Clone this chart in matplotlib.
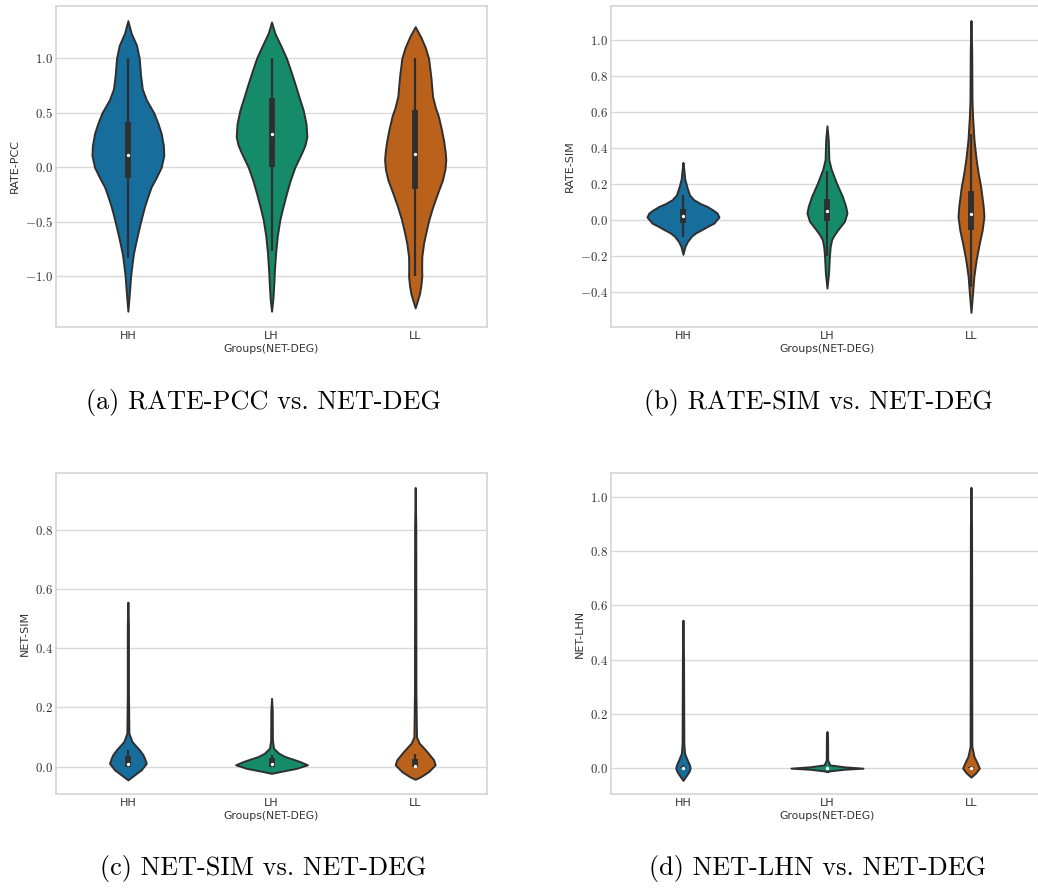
import colorsys

import matplotlib
matplotlib.use('Agg')
from matplotlib import pyplot as plt
from matplotlib.ticker import FuncFormatter

plt.rcParams['mathtext.fontset'] = 'cm'

groups = ['HH', 'LH', 'LL']
base_colors = ['#0173b2', '#029e73', '#d55e00']

# violin outlines: y positions and half widths (in category units) per group
pcc_y = [
    [1.345, 1.23, 1.12, 1.0, 0.85, 0.72, 0.62, 0.5, 0.4, 0.31, 0.2, 0.11, 0.0, -0.1, -0.18, -0.27,
     -0.36, -0.45, -0.54, -0.66, -0.79, -0.9, -1.0, -1.16, -1.32],
    [1.333, 1.23, 1.1, 1.0, 0.88, 0.77, 0.65, 0.526, 0.4, 0.28, 0.2, 0.13, 0.0, -0.12, -0.24, -0.36,
     -0.48, -0.63, -0.79, -0.95, -1.06, -1.2, -1.32],
    [1.29, 1.2, 1.1, 1.0, 0.83, 0.65, 0.55, 0.465, 0.35, 0.25, 0.15, 0.07, -0.02, -0.116, -0.24, -0.36,
     -0.48, -0.6, -0.7, -0.82, -0.92, -1.0, -1.08, -1.16, -1.29],
]
pcc_w = [
    [0.0, 0.023, 0.06, 0.079, 0.088, 0.1, 0.128, 0.18, 0.21, 0.232, 0.247, 0.25, 0.232, 0.195, 0.162,
     0.138, 0.116, 0.098, 0.081, 0.06, 0.039, 0.028, 0.019, 0.01, 0.0],
    [0.0, 0.023, 0.07, 0.104, 0.135, 0.162, 0.19, 0.22, 0.24, 0.246, 0.232, 0.209, 0.162, 0.13, 0.104,
     0.08, 0.058, 0.04, 0.028, 0.02, 0.016, 0.01, 0.0],
    [0.0, 0.037, 0.07, 0.093, 0.109, 0.121, 0.14, 0.162, 0.182, 0.197, 0.208, 0.213, 0.207, 0.19, 0.155,
     0.123, 0.095, 0.074, 0.058, 0.046, 0.045, 0.046, 0.04, 0.03, 0.0],
]
# (whisker low, q1, median, q3, whisker high)
pcc_box = [(-0.835, -0.10, 0.113, 0.42, 1.0),
           (-0.765, 0.0, 0.306, 0.64, 1.0),
           (-1.0, -0.2, 0.125, 0.526, 1.0)]

sim_y = [
    [0.32, 0.28, 0.23, 0.187, 0.14, 0.113, 0.09, 0.076, 0.055, 0.039, 0.017, -0.017, -0.035, -0.054,
     -0.07, -0.09, -0.12, -0.146, -0.19],
    [0.523, 0.445, 0.335, 0.28, 0.205, 0.131, 0.076, 0.039, -0.007, -0.054, -0.085, -0.109, -0.15,
     -0.2, -0.294, -0.377],
    [1.107, 0.945, 0.667, 0.575, 0.445, 0.335, 0.26, 0.187, 0.076, 0.02, -0.054, -0.128, -0.22,
     -0.312, -0.405, -0.512],
]
sim_w = [
    [0.0, 0.006, 0.012, 0.026, 0.045, 0.075, 0.125, 0.167, 0.21, 0.237, 0.25, 0.214, 0.17, 0.128,
     0.09, 0.058, 0.03, 0.014, 0.0],
    [0.0, 0.009, 0.013, 0.03, 0.066, 0.107, 0.13, 0.139, 0.121, 0.075, 0.048, 0.032, 0.022, 0.017,
     0.011, 0.0],
    [0.0, 0.005, 0.007, 0.011, 0.021, 0.036, 0.05, 0.067, 0.085, 0.09, 0.078, 0.058, 0.036, 0.02,
     0.011, 0.0],
]
sim_box = [(-0.094, -0.017, 0.02, 0.061, 0.14),
           (-0.2, -0.007, 0.05, 0.118, 0.27),
           (-0.37, -0.054, 0.033, 0.159, 0.48)]

nsim_y = [
    [0.555, 0.474, 0.248, 0.113, 0.085, 0.07, 0.056, 0.04, 0.028, 0.011, -0.011, -0.028, -0.045],
    [0.23, 0.19, 0.09, 0.062, 0.045, 0.034, 0.017, 0.006, -0.006, -0.017, -0.023],
    [0.942, 0.81, 0.25, 0.1, 0.079, 0.065, 0.051, 0.023, 0.006, -0.017, -0.034, -0.043],
]
nsim_w = [
    [0.0, 0.004, 0.004, 0.007, 0.028, 0.055, 0.081, 0.105, 0.116, 0.128, 0.093, 0.046, 0.0],
    [0.0, 0.005, 0.006, 0.014, 0.05, 0.093, 0.197, 0.25, 0.174, 0.058, 0.0],
    [0.0, 0.004, 0.005, 0.009, 0.028, 0.055, 0.081, 0.128, 0.139, 0.093, 0.039, 0.0],
]
nsim_box = [(0.0, 0.0, 0.009, 0.036, 0.056),
            (0.0, 0.0, 0.007, 0.03, 0.04),
            (0.0, -0.002, 0.002, 0.025, 0.043)]

lhn_y = [
    [0.545, 0.4, 0.092, 0.055, 0.031, 0.012, 0.0, -0.012, -0.025, -0.045],
    [0.135, 0.117, 0.03, 0.012, 0.005, 0.0, -0.004, -0.01, -0.013],
    [1.034, 0.89, 0.08, 0.043, 0.018, 0.0, -0.018, -0.033],
]
lhn_w = [
    [0.0, 0.004, 0.006, 0.011, 0.029, 0.045, 0.05, 0.042, 0.026, 0.0],
    [0.0, 0.004, 0.005, 0.02, 0.12, 0.25, 0.12, 0.02, 0.0],
    [0.0, 0.004, 0.006, 0.021, 0.044, 0.058, 0.032, 0.0],
]
lhn_box = [(0.0, 0.0, 0.0, 0.004, 0.01),
           (0.0, 0.0, 0.0, 0.002, 0.005),
           (0.0, 0.0, 0.0, 0.003, 0.007)]

panels = [
    ('RATE-PCC', pcc_y, pcc_w, pcc_box, (-1.465, 1.48), [-1.0, -0.5, 0.0, 0.5, 1.0]),
    ('RATE-SIM', sim_y, sim_w, sim_box, (-0.593, 1.188), [-0.4, -0.2, 0.0, 0.2, 0.4, 0.6, 0.8, 1.0]),
    ('NET-SIM', nsim_y, nsim_w, nsim_box, (-0.0925, 0.991), [0.0, 0.2, 0.4, 0.6, 0.8]),
    ('NET-LHN', lhn_y, lhn_w, lhn_box, (-0.095, 1.087), [0.0, 0.2, 0.4, 0.6, 0.8, 1.0]),
]
captions = ['(a) RATE-PCC vs. NET-DEG', '(b) RATE-SIM vs. NET-DEG',
            '(c) NET-SIM vs. NET-DEG', '(d) NET-LHN vs. NET-DEG']

# axes boxes in figure fractions: left, bottom, width, height
boxes = [(0.054, 0.6322, 0.4152, 0.3611), (0.5886, 0.6322, 0.4162, 0.3611),
         (0.054, 0.1069, 0.4152, 0.3611), (0.5886, 0.1069, 0.4162, 0.3611)]
caption_pos = [(0.2535, 0.547), (0.788, 0.547), (0.2535, 0.0235), (0.788, 0.0235)]

LINE = '#2f2f2f'
GRID = '#d9d9d9'


def desaturate(color, prop=0.75):
    r, g, b = matplotlib.colors.to_rgb(color)
    h, l, s = colorsys.rgb_to_hls(r, g, b)
    return colorsys.hls_to_rgb(h, l, s * prop)


colors = [desaturate(c) for c in base_colors]

fig = plt.figure(figsize=(10.38, 8.89), dpi=100)

for (ylabel, ys, ws, stats, ylim, yticks), box, cap, cpos in zip(panels, boxes, captions, caption_pos):
    ax = fig.add_axes(box)
    ax.set_facecolor('white')

    for i, (y, w, st, col) in enumerate(zip(ys, ws, stats, colors)):
        left = [i - v for v in w]
        right = [i + v for v in w]
        ax.fill_betweenx(y, left, right, facecolor=col, edgecolor=LINE, linewidth=1.4, zorder=2)
        whislo, q1, med, q3, whishi = st
        ax.vlines(i, whislo, whishi, color=LINE, linewidth=1.6, zorder=3)
        ax.vlines(i, q1, q3, color=LINE, linewidth=4.2, zorder=3)
        ax.plot(i, med, 'o', color='white', markersize=2.4, markeredgewidth=0, zorder=4)

    ax.set_xlim(-0.5, 2.5)
    ax.set_ylim(*ylim)
    ax.set_xticks(range(len(groups)))
    ax.set_xticklabels(groups, fontsize=8, color='#333333')
    ax.set_yticks(yticks)
    ax.yaxis.set_major_formatter(FuncFormatter(lambda v, _: f'${v:.1f}$'))
    ax.tick_params(axis='y', labelsize=9.3, labelcolor='#333333', length=0, pad=2)
    ax.tick_params(axis='x', length=0, pad=3)
    ax.grid(axis='y', color=GRID, linewidth=1.0, zorder=0)
    ax.set_axisbelow(True)
    for sp in ax.spines.values():
        sp.set_color('#d4d4d4')
        sp.set_linewidth(1.2)

    ax.set_ylabel(ylabel, fontsize=8, color='#333333', labelpad=4)
    ax.set_xlabel('Groups(NET-DEG)', fontsize=7.8, color='#333333', labelpad=2)

    fig.text(cpos[0], cpos[1], cap, family='cmr10', fontsize=18.9, ha='center', va='center')

fig.savefig('out.png', dpi=100, facecolor='white')
